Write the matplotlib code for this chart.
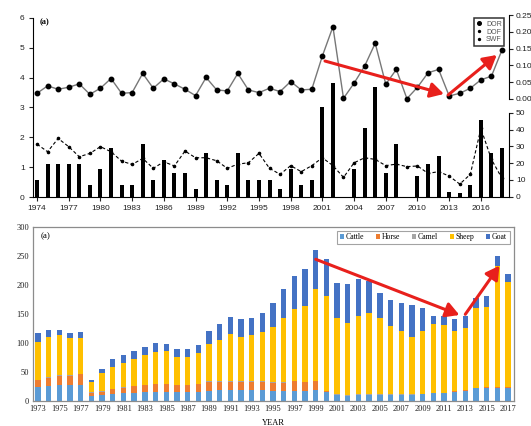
import numpy as np
import matplotlib
matplotlib.use("Agg")
import matplotlib.pyplot as plt

# ---- panel (a) top: DOR / DOF / SWF, 1974-2018
years_top = list(range(1974, 2019))
dor = [0.017, 0.039, 0.029, 0.035, 0.045, 0.014, 0.032, 0.061, 0.017, 0.019,
       0.076, 0.032, 0.060, 0.045, 0.029, 0.010, 0.064, 0.027, 0.024, 0.076,
       0.027, 0.019, 0.032, 0.022, 0.052, 0.027, 0.029, 0.128, 0.215, 0.002,
       0.047, 0.098, 0.166, 0.044, 0.088, 0.001, 0.035, 0.078, 0.088, 0.009,
       0.017, 0.032, 0.057, 0.068, 0.146]
dof = [31.3, 26.8, 34.7, 29.8, 23.8, 25.8, 29.8, 26.8, 21.2, 19.2,
       22.8, 16.9, 20.8, 18.3, 27.2, 23.2, 23.2, 21.4, 16.9, 19.4,
       20.2, 25.8, 16.9, 13.3, 18.5, 14.9, 18.5, 23.2, 18.5, 11.5,
       20.2, 23.2, 22.2, 18.5, 19.4, 17.9, 18.3, 13.9, 14.9, 12.3,
       7.5, 13.3, 40.7, 22.2, 10.9]
swf = [0.56, 1.10, 1.10, 1.10, 1.10, 0.41, 0.95, 1.65, 0.41, 0.41,
       1.77, 0.56, 1.23, 0.82, 0.82, 0.28, 1.49, 0.56, 0.41, 1.49,
       0.56, 0.56, 0.56, 0.28, 0.95, 0.41, 0.56, 3.00, 3.81, 0.0,
       0.95, 2.32, 3.68, 0.82, 1.77, 0.0, 0.70, 1.10, 1.38, 0.17,
       0.15, 0.41, 2.58, 1.49, 1.65]
top_ticks = list(range(1974, 2018, 3))

# ---- panel (a) bottom: livestock, 1973-2017 (stack tops)
years_bot = list(range(1973, 2018))
cattle = [24.7, 25.8, 27.5, 27.5, 27.5, 8.6, 10.3, 12.0, 13.2, 14.3,
          16.0, 16.0, 16.0, 15.0, 15.0, 15.0, 17.8, 19.0, 19.0, 19.0,
          19.0, 19.0, 17.8, 17.8, 17.8, 17.8, 19.0, 16.0, 10.3, 8.6,
          10.3, 10.3, 10.3, 10.3, 10.3, 10.3, 11.5, 13.2, 13.2, 16.0,
          17.8, 21.8, 23.0, 23.0, 23.0]
horse_top = [36.0, 40.0, 43.6, 43.6, 46.0, 14.3, 16.0, 20.0, 23.0, 25.8,
             27.5, 28.7, 29.0, 27.5, 27.5, 28.7, 33.3, 33.3, 33.3, 33.3,
             33.3, 33.3, 31.6, 31.6, 34.4, 32.0, 34.4, 17.0, 10.8, 9.1,
             10.8, 10.8, 10.8, 10.8, 10.8, 10.8, 12.0, 13.7, 13.7, 16.5,
             18.3, 22.3, 23.5, 23.5, 23.5]
sheep_top = [102, 111, 113.6, 108, 109, 32, 47.6, 58, 64.8, 71.7,
             79, 85, 86, 76.3, 76.3, 82, 98, 105, 115, 110.7,
             113.6, 119, 128, 142, 157.8, 163.5, 192, 180.7, 142, 133.7,
             146.3, 150.9, 142.3, 129, 121, 110.7, 121, 132, 130.8, 120.5,
             126.2, 159.5, 161.2, 233, 205.4]
goat_top = [116.5, 123, 123, 116.5, 118, 37, 54.5, 71.7, 79, 86,
            93.5, 99.3, 98, 89, 89, 96.4, 120.5, 132.5, 145, 140.6,
            143.4, 151, 168, 192, 215, 227, 260, 243.8, 203.7, 200.8,
            209.4, 206.5, 186.5, 173.8, 168, 165, 159.5, 146.3, 146.3, 141,
            146.3, 176.7, 180.7, 249.6, 218.6]
camel = [0.8] * len(years_bot)
bot_ticks = list(range(1973, 2018, 2))

cattle = np.array(cattle)
horse = np.array(horse_top) - cattle
sheep = np.array(sheep_top) - np.array(horse_top) - np.array(camel)
goat = np.array(goat_top) - np.array(sheep_top)

W, H = 531, 426
fig = plt.figure(figsize=(W / 100, H / 100), dpi=100)

# ---------------- top panel
ax = fig.add_axes([33 / W, 1 - 197 / H, 476 / W, 183 / H])
ax.bar(years_top, swf, width=0.38, color="black", zorder=2)
ax.set_xlim(1973.62, 2018.66)
ax.set_ylim(0, 6.134)
ax.set_yticks(range(0, 7))
ax.spines["left"].set_bounds(0, 6)
ax.spines["top"].set_visible(False)
ax.spines["right"].set_visible(False)
ax.set_xticks(top_ticks)
ax.tick_params(labelsize=6, length=3, width=0.8, pad=3, colors="#222222")
for lab in ax.get_xticklabels() + ax.get_yticklabels():
    lab.set_family("Liberation Sans")
ax.text(1974.2, 5.8, "(a)", fontsize=6, fontweight="bold", family="Liberation Serif")

axr1 = ax.twinx()
axr1.plot(years_top, dor, color="#777777", lw=1.0, marker="o", ms=3.2,
          mfc="black", mec="black", label="DOR", zorder=3)
axr1.set_ylim(-0.2917, 0.253)
axr1.set_yticks([0.0, 0.05, 0.10, 0.15, 0.20, 0.25])
axr1.set_yticklabels(["%.2f" % v for v in [0.0, 0.05, 0.10, 0.15, 0.20, 0.25]])
axr1.spines["right"].set_bounds(0, 0.25)
for s in ["top", "left", "bottom"]:
    axr1.spines[s].set_visible(False)

axr2 = ax.twinx()
axr2.plot(years_top, dof, color="black", lw=0.8, ls=(0, (3, 2)), marker="o",
          ms=1.6, label="DOF")
axr2.set_ylim(-0.2, 108.9)
axr2.set_yticks(range(0, 51, 10))
axr2.spines["right"].set_bounds(0, 50)
for s in ["top", "left", "bottom"]:
    axr2.spines[s].set_visible(False)

for a in (axr1, axr2):
    a.tick_params(labelsize=6, length=3, width=0.8, pad=2, colors="#222222")
    for lab in a.get_yticklabels():
        lab.set_family("Liberation Sans")

# legend (markers only, as in the source)
h1 = plt.Line2D([], [], ls="none", marker="o", ms=2.6, color="black")
h2 = plt.Line2D([], [], ls="none", marker="o", ms=1.4, color="black")
h3 = plt.Line2D([], [], ls="none", marker="o", ms=1.4, color="black")
leg = axr1.legend([h1, h2, h3], ["DOR", "DOF", "SWF"], loc="upper right",
                  bbox_to_anchor=(0.997, 0.995), frameon=True,
                  fancybox=False, edgecolor="black", handlelength=0.8,
                  handletextpad=0.6, labelspacing=0.1, borderpad=0.35,
                  prop={"family": "Liberation Sans", "size": 5})
leg.get_frame().set_linewidth(1.1)
for t in leg.get_texts():
    t.set_color("#555555")

arrow_kw = dict(arrowstyle="-|>,head_length=0.8,head_width=0.45",
                color="#e8201c", lw=2.2, shrinkA=0, shrinkB=0)
axr1.annotate("", xy=(2012.5, 0.015), xytext=(2001.25, 0.113),
              arrowprops=arrow_kw, zorder=5)
axr1.annotate("", xy=(2017.5, 0.131), xytext=(2012.9, 0.012),
              arrowprops=arrow_kw, zorder=5)

# ---------------- bottom panel
bx = fig.add_axes([33 / W, 1 - 401 / H, 481 / W, 174.3 / H])
bw = 0.5
colors = ["#5b9bd5", "#ed7d31", "#a5a5a5", "#ffc000", "#4472c4"]
names = ["Cattle", "Horse", "Camel", "Sheep", "Goat"]
base = np.zeros(len(years_bot))
for vals, c, n in zip([cattle, horse, np.array(camel), sheep, goat], colors, names):
    bx.bar(years_bot, vals, bottom=base, width=bw, color=c, label=n, zorder=2)
    base = base + vals
bx.set_xlim(1972.53, 2017.56)
bx.set_ylim(0, 300)
bx.set_yticks(range(0, 301, 50))
bx.set_xticks(bot_ticks)
for s in bx.spines.values():
    s.set_color("#8c8c8c")
    s.set_linewidth(0.9)
bx.tick_params(labelsize=6, length=0, pad=3, colors="#222222")
for lab in bx.get_xticklabels() + bx.get_yticklabels():
    lab.set_family("Liberation Serif")
bx.set_xlabel("YEAR", fontsize=6, family="Liberation Serif", labelpad=4)
bx.text(1973.2, 283, "(a)", fontsize=6.5, family="Liberation Serif", va="center")

bleg = bx.legend(loc="upper right", bbox_to_anchor=(0.999, 1.0), ncol=5,
                 frameon=True, fancybox=False, edgecolor="#8c8c8c",
                 handlelength=0.5, handleheight=0.5, handletextpad=0.25,
                 columnspacing=1.5, borderpad=0.35,
                 prop={"family": "Liberation Serif", "size": 5.6})
bleg.get_frame().set_linewidth(0.8)

bx.annotate("", xy=(2012.45, 148), xytext=(1999.0, 243.9), arrowprops=arrow_kw, zorder=5)
bx.annotate("", xy=(2016.2, 232.9), xytext=(2013.0, 149.2), arrowprops=arrow_kw, zorder=5)

fig.savefig("out.png", dpi=100)
